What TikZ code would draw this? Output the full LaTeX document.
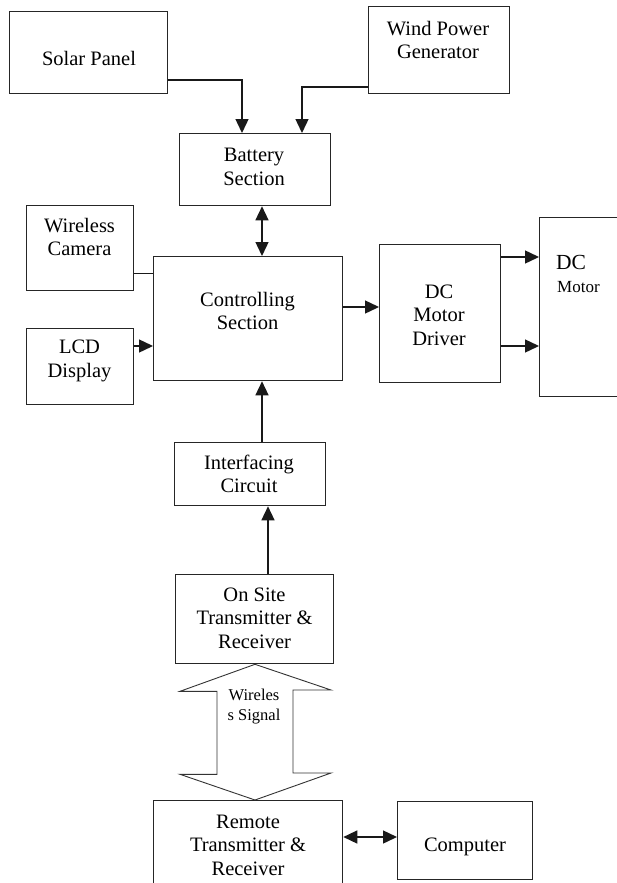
\documentclass[tikz,border=0pt]{standalone}
\usepackage{fontspec}
\setmainfont{Liberation Serif}
\usetikzlibrary{arrows.meta,calc}
\begin{document}
\begin{tikzpicture}[x=1pt,y=-1pt,
  box/.style={draw=black!85, line width=1.3pt, inner sep=0pt, anchor=north west},
  txt/.style={align=center, inner sep=0pt, font=\fontsize{20.5}{23.5}\selectfont},
  smalltxt/.style={align=center, inner sep=0pt, font=\fontsize{16.5}{20}\selectfont},
  conn/.style={draw=black!90, line width=1.4pt},
  arr/.style={conn, -{Triangle[length=14pt,width=13pt]}},
  dbl/.style={conn, {Triangle[length=14pt,width=13pt]}-{Triangle[length=14pt,width=13pt]}},
  blockarrow/.style={draw=black!80, line width=0.9pt}]
\useasboundingbox (0,0) rectangle (617,883);
\clip (0,0) rectangle (617,883);
\fill[white] (0,0) rectangle (617,883);

% boxes
\node[box, minimum width=158pt, minimum height=82pt] (solar) at (9,11) {};
\node[box, minimum width=141pt, minimum height=87pt] (wind) at (368,6) {};
\node[box, minimum width=151pt, minimum height=72pt] (battery) at (179,133) {};
\node[box, minimum width=107pt, minimum height=85pt] (camera) at (26,205) {};
\node[box, minimum width=189pt, minimum height=124pt] (ctrl) at (153,256) {};
\node[box, minimum width=107pt, minimum height=76pt] (lcd) at (26,328) {};
\node[box, minimum width=121pt, minimum height=138pt] (driver) at (379,244) {};
\node[box, minimum width=120pt, minimum height=179pt] (motor) at (539,217) {};
\node[box, minimum width=151pt, minimum height=63pt] (interf) at (174,442) {};
\node[box, minimum width=158pt, minimum height=89pt] (onsite) at (175,574) {};
\node[box, minimum width=189pt, minimum height=120pt] (remote) at (153,800) {};
\node[box, minimum width=135pt, minimum height=78pt] (computer) at (397,801) {};

% texts
\node[txt] (tsolar) at (89,58) {Solar Panel};
\node[txt] (twind) at (438,40) {Wind Power\\Generator};
\node[txt] (tbattery) at (254,167) {Battery\\Section};
\node[txt] (tcamera) at (79.5,237) {Wireless\\Camera};
\node[txt] (tctrl) at (247.5,311) {Controlling\\Section};
\node[txt] (tlcd) at (79.5,361) {LCD\\Display};
\node[txt] (tdriver) at (439,315) {DC\\Motor\\Driver};
\node[anchor=west, inner sep=0pt, font=\fontsize{21.5}{24}\selectfont] (tmotor1) at (556,262) {DC};
\node[anchor=west, inner sep=0pt, font=\fontsize{17}{20}\selectfont] (tmotor2) at (557,287) {Motor};
\node[txt] (tinterf) at (249,474) {Interfacing\\Circuit};
\node[txt] (tonsite) at (254.5,618) {On Site\\Transmitter \&\\Receiver};
\node[txt] (tremote) at (248,845) {Remote\\Transmitter \&\\Receiver};
\node[txt] (tcomputer) at (465,847) {Computer};

% connectors
\draw[arr] ($(solar.north east)+(0,69)$) -| ($(battery.north west)+(63,0)$);
\draw[arr] ($(wind.north west)+(0,81)$) -| ($(battery.north west)+(123,0)$);

\coordinate (bx) at ($(battery.south west)+(83,0)$);
\draw[dbl] (bx) -- (bx |- ctrl.north);

\coordinate (cy) at ($(camera.north east)+(0,68)$);
\draw[conn, line width=1pt] (cy) -- (cy -| ctrl.west);

\coordinate (ly) at ($(lcd.north east)+(0,18)$);
\draw[arr] (ly) -- (ly -| ctrl.west);

\coordinate (dy) at ($(ctrl.north east)+(0,51)$);
\draw[arr] (dy) -- (dy -| driver.west);

\coordinate (m1) at ($(driver.north east)+(0,13)$);
\draw[arr] (m1) -- (m1 -| motor.west);
\coordinate (m2) at ($(driver.north east)+(0,102)$);
\draw[arr] (m2) -- (m2 -| motor.west);

\coordinate (ix) at ($(interf.north west)+(88,0)$);
\draw[arr] (ix) -- (ix |- ctrl.south);

\coordinate (ox) at ($(onsite.north west)+(93,0)$);
\draw[arr] (ox) -- (ox |- interf.south);

\coordinate (rx) at ($(remote.north east)+(0,37)$);
\draw[dbl] (rx) -- (rx -| computer.west);

% wireless signal block arrow
\coordinate (bt) at ($(onsite.south west)+(80,0)$);
\coordinate (bb) at ($(remote.north west)+(102,0)$);
\draw[blockarrow] (bt) -- ++(-75,27) -- ++(37,0) -- ++(0,83) -- ++(-37,0) -- (bb)
  -- ++(76,-27) -- ++(-38,0) -- ++(0,-83) -- ++(38,0) -- cycle;
\node[smalltxt] (tsignal) at (254,707) {Wireles\\s Signal};
\end{tikzpicture}
\end{document}
